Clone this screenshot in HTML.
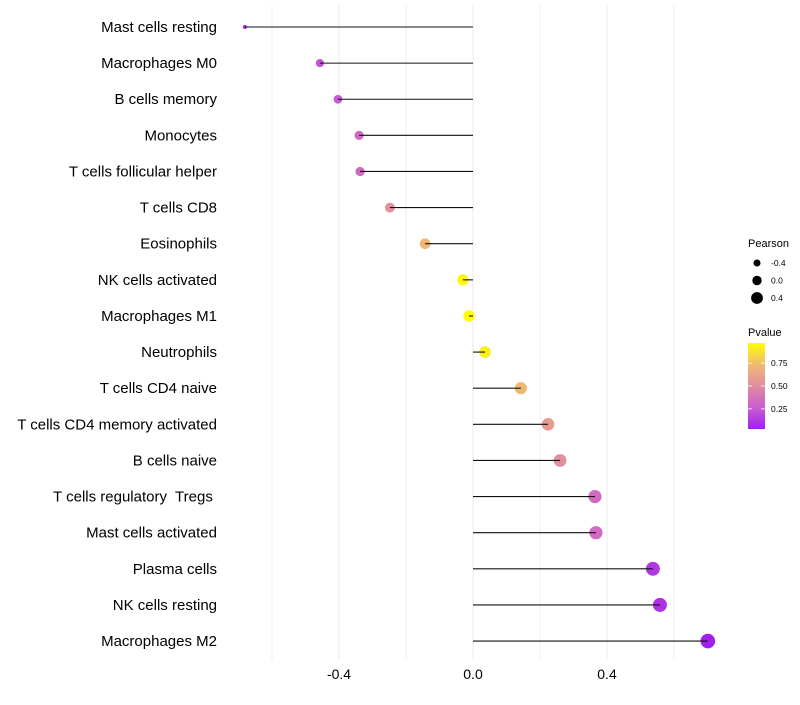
<!DOCTYPE html>
<html><head><meta charset="utf-8"><style>
body{margin:0;background:#fff;font-family:"Liberation Sans",sans-serif}
</style></head><body>
<svg id="chart" width="800" height="700" xmlns="http://www.w3.org/2000/svg"></svg>
<script>
const categories=["Mast cells resting","Macrophages M0","B cells memory","Monocytes","T cells follicular helper","T cells CD8","Eosinophils","NK cells activated","Macrophages M1","Neutrophils","T cells CD4 naive","T cells CD4 memory activated","B cells naive","T cells regulatory  Tregs ","Mast cells activated","Plasma cells","NK cells resting","Macrophages M2"];
const pearson=[-0.681,-0.457,-0.403,-0.340,-0.337,-0.248,-0.143,-0.030,-0.012,0.036,0.143,0.224,0.260,0.364,0.367,0.537,0.558,0.701];
const pvalues=[0.05,0.22,0.25,0.33,0.33,0.52,0.72,0.95,0.97,0.92,0.72,0.58,0.52,0.33,0.33,0.12,0.1,0.03];
const xTicks=[-0.4,0.0,0.4];
const sizeLegend=[-0.4,0.0,0.4];
const colorTicks=[0.25,0.5,0.75];

const NS="http://www.w3.org/2000/svg";
const svg=document.getElementById('chart');
function mk(t,a,p){const e=document.createElementNS(NS,t);for(const k in a)e.setAttribute(k,a[k]);(p||svg).appendChild(e);return e;}
const x=v=>473+v*335;
const y=i=>27+i*36.12;
const pmin=Math.min(...pearson),pmax=Math.max(...pearson);
const r=v=>2+5.3*Math.sqrt(Math.max(0,(v-pmin)/(pmax-pmin)));
const stops=[[0.03,[160,32,240]],[0.25,[200,90,210]],[0.5,[225,140,160]],[0.75,[240,190,110]],[0.97,[255,255,0]]];
function col(p){p=Math.max(0.03,Math.min(0.97,p));
 for(let k=0;k<stops.length-1;k++){const [p0,a]=stops[k],[p1,b]=stops[k+1];
  if(p<=p1){const u=(p-p0)/(p1-p0);return `rgb(${a.map((c,i)=>Math.round(c+(b[i]-c)*u)).join(',')})`;}}
 return 'rgb(255,255,0)';}
for(let g=-0.6;g<=0.61;g+=0.2){const l=mk('line',{x1:x(g),x2:x(g),y1:5,y2:660,stroke:'#efefef','stroke-width':1});
}
xTicks.forEach(v=>{const l=mk('line',{x1:x(v),x2:x(v),y1:5,y2:660,stroke:'#ebebeb','stroke-width':1});

const t=mk('text',{x:x(v),y:679,'text-anchor':'middle','font-size':14,fill:'#000'});t.textContent=v.toFixed(1);
});
categories.forEach((c,i)=>{
 const t=mk('text',{x:217,y:y(i)+5,'text-anchor':'end','font-size':15,fill:'#000','xml:space':'preserve'});t.style.whiteSpace='pre';t.textContent=c;
 
 const d=mk('circle',{cx:x(pearson[i]),cy:y(i),r:r(pearson[i]),fill:col(pvalues[i])});
 
 const l=mk('line',{x1:x(0),x2:x(pearson[i]),y1:y(i),y2:y(i),stroke:'#111','stroke-width':1.1});
 
});
const lt=mk('text',{x:748,y:247,'font-size':11,fill:'#000'});lt.textContent='Pearson';

sizeLegend.forEach((v,i)=>{const cy=263+i*17.5;
 const d=mk('circle',{cx:757,cy:cy,r:3.5+i*1.2,fill:'#000'});
 const t=mk('text',{x:771,y:cy+3,'font-size':8.5,fill:'#000'});t.textContent=v.toFixed(1);});
const ct=mk('text',{x:748,y:336,'font-size':11,fill:'#000'});ct.textContent='Pvalue';

const defs=mk('defs',{});const gr=mk('linearGradient',{id:'pg',x1:0,y1:1,x2:0,y2:0},defs);
[0,0.125,0.25,0.375,0.5,0.625,0.75,0.875,1].forEach(o=>mk('stop',{offset:o,'stop-color':col(0.03+o*0.94)},gr));
const bar=mk('rect',{x:748,y:343,width:17,height:86,fill:'url(#pg)'});

colorTicks.forEach(v=>{const cy=429-(v-0.03)/0.94*86;
 mk('line',{x1:748,x2:752,y1:cy,y2:cy,stroke:'#fff','stroke-width':0.8});mk('line',{x1:761,x2:765,y1:cy,y2:cy,stroke:'#fff','stroke-width':0.8});
 const t=mk('text',{x:771,y:cy+3,'font-size':8.5,fill:'#000'});t.textContent=v.toFixed(2);
 });
</script>
</body></html>
